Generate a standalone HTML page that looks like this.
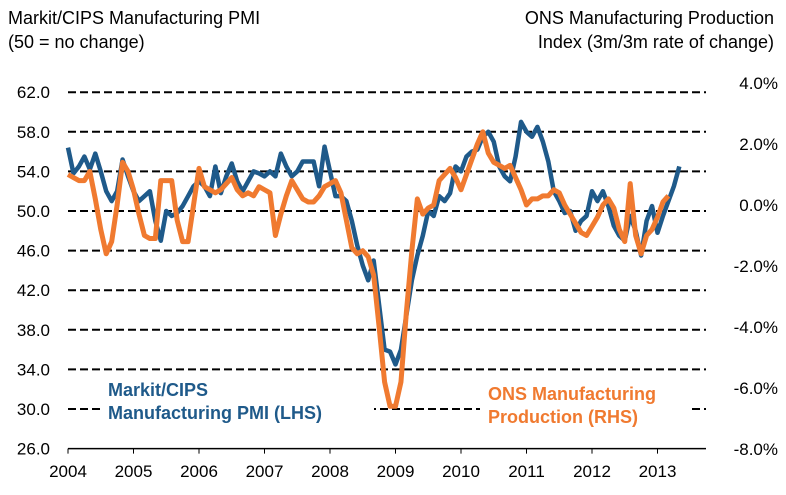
<!DOCTYPE html>
<html><head><meta charset="utf-8"><style>
body{margin:0;background:#fff;}
svg text{font-family:"Liberation Sans",Arial,sans-serif;}
</style></head><body>
<svg width="786" height="490" xmlns="http://www.w3.org/2000/svg">
<text x="8" y="24" font-size="18" fill="#000">Markit/CIPS Manufacturing PMI</text>
<text x="8" y="48" font-size="18" fill="#000">(50 = no change)</text>
<text x="774" y="24" font-size="18" text-anchor="end" fill="#000">ONS Manufacturing Production</text>
<text x="774" y="48" font-size="18" text-anchor="end" fill="#000">Index (3m/3m rate of change)</text>
<g id="grid"></g>
<rect x="100" y="376" width="274" height="50" fill="#fff"/>
<rect x="480" y="380" width="208" height="50" fill="#fff"/>
<g id="lines"></g><g id="axes"></g>
<text x="108" y="396" font-size="18" font-weight="bold" fill="#1f5a8a">Markit/CIPS</text>
<text x="108" y="419" font-size="18" font-weight="bold" fill="#1f5a8a">Manufacturing PMI (LHS)</text>
<text x="488" y="400" font-size="18" font-weight="bold" fill="#f07a30">ONS Manufacturing</text>
<text x="488" y="423" font-size="18" font-weight="bold" fill="#f07a30">Production (RHS)</text>
</svg>
<script>
const years=["2004","2005","2006","2007","2008","2009","2010","2011","2012","2013"];
const leftTicks=[62,58,54,50,46,42,38,34,30,26];
const rightTicks=[4,2,0,-2,-4,-6,-8];
const pmi=[56.4,53.8,54.5,55.5,54.2,55.8,54.0,52.0,51.0,52.0,55.2,53.5,
52.0,51.0,51.5,52.0,49.0,47.0,50.0,49.5,49.8,50.5,51.5,52.5,
53.0,52.5,51.5,54.5,51.8,53.5,54.8,53.0,52.0,53.0,54.0,53.8,
53.5,54.0,53.5,55.8,54.5,53.5,54.0,55.0,55.0,55.0,52.5,56.5,
54.0,51.5,51.5,51.0,49.0,46.5,44.5,43.0,45.0,40.5,36.0,35.8,
34.5,36.0,39.5,43.0,45.5,47.5,50.0,49.5,51.5,51.0,51.8,54.5,
54.0,55.5,56.0,56.2,57.5,58.0,57.0,54.5,53.5,53.0,55.5,59.0,
58.0,57.5,58.5,57.0,55.0,52.0,51.0,49.8,50.0,48.0,49.0,49.5,
52.0,51.0,52.0,50.5,48.5,47.5,47.0,49.5,48.0,45.5,49.0,50.5,
47.8,49.5,51.0,52.5,54.5];
const ons=[1.0,0.9,0.8,0.8,1.1,0.2,-0.8,-1.6,-1.2,0.0,1.4,1.1,
0.5,-0.3,-1.0,-1.1,-1.1,0.8,0.8,0.8,-0.5,-1.2,-1.2,0.0,
1.2,0.6,0.5,0.4,0.5,0.7,0.9,0.5,0.3,0.4,0.3,0.6,
0.5,0.4,-1.0,-0.3,0.3,0.8,0.5,0.2,0.1,0.1,0.3,0.6,
0.7,0.8,0.4,-0.5,-1.4,-1.6,-1.5,-1.7,-2.3,-4.0,-5.8,-6.6,
-6.6,-5.8,-3.5,-1.5,0.2,-0.3,-0.1,0.0,0.8,1.0,1.2,0.9,
0.5,1.0,1.5,2.0,2.4,1.7,1.4,1.3,1.2,1.3,0.9,0.5,
0.0,0.2,0.2,0.3,0.3,0.5,0.4,0.0,-0.3,-0.6,-0.9,-1.0,
-0.7,-0.4,0.0,0.2,-0.1,-0.8,-1.2,0.7,-1.0,-1.6,-1.0,-0.8,
-0.4,0.1,0.3];
const NS="http://www.w3.org/2000/svg";
const x0=68,yearW=65.5,plotR=706;
const xm=i=>x0+i*yearW/12;
const yl=v=>211-(v-50)*9.9;
const yr=v=>205-v*30.5;
function mk(t,a,p){const e=document.createElementNS(NS,t);for(const k in a)e.setAttribute(k,a[k]);p.appendChild(e);return e;}
const grid=document.getElementById('grid'),axes=document.getElementById('axes'),lines=document.getElementById('lines');
leftTicks.forEach(v=>{
 if(v!==26){const l=mk('line',{x1:x0,x2:plotR,y1:yl(v),y2:yl(v),stroke:'#000','stroke-width':2,'stroke-dasharray':'8,4'},grid);
 
 }
 const t=mk('text',{x:50,y:yl(v)+6,'font-size':17,'text-anchor':'end',fill:'#000'},axes);t.textContent=v.toFixed(1);
 
 
});
rightTicks.forEach(v=>{
 const t=mk('text',{x:778,y:yr(v)+6,'font-size':17,'text-anchor':'end',fill:'#000'},axes);t.textContent=v.toFixed(1)+'%';
 
 
});
const ax=mk('line',{x1:x0,x2:plotR,y1:yl(26),y2:yl(26),stroke:'#000','stroke-width':1.5},axes);


years.forEach((y,i)=>{
 const x=x0+i*yearW;
 const tk=mk('line',{x1:x,x2:x,y1:yl(26),y2:yl(26)+5,stroke:'#000','stroke-width':1},axes);
 
 
 const t=mk('text',{x:x,y:477,'font-size':17,'text-anchor':'middle',fill:'#000'},axes);t.textContent=y;
 
 
});
const pp=mk('polyline',{points:pmi.map((v,i)=>xm(i)+','+yl(v)).join(' '),fill:'none',stroke:'#1f5a8a','stroke-width':4.5,'stroke-linejoin':'round'},lines);


const op=mk('polyline',{points:ons.map((v,i)=>xm(i)+','+yr(v)).join(' '),fill:'none',stroke:'#f07a30','stroke-width':5,'stroke-linejoin':'round'},lines);


</script>
</body></html>
